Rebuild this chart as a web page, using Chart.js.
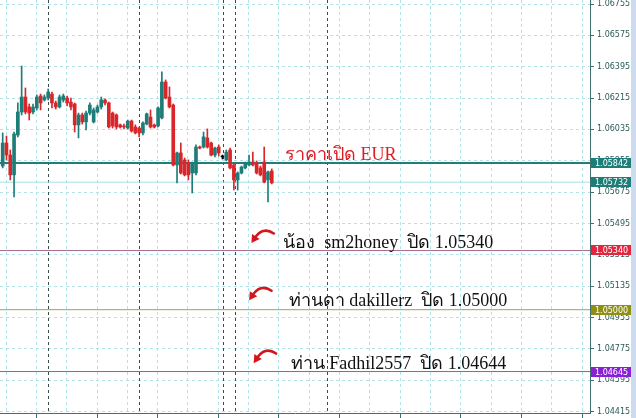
<!DOCTYPE html>
<html>
<head>
<meta charset="utf-8">
<script src="https://cdn.jsdelivr.net/npm/chart.js@4.4.0/dist/chart.umd.min.js"></script>
<style>
  html, body { margin: 0; padding: 0; background: #fff; overflow: hidden; }
  #wrap { width: 636px; height: 418px; position: relative; }
</style>
</head>
<body>
<div id="wrap"><canvas id="chart"></canvas></div>
<script>
// H1 candles
const openP = [1.05825, 1.05957, 1.05888, 1.05774, 1.06003, 1.06135, 1.06221, 1.06164, 1.06135, 1.06158,
  1.06227, 1.06204, 1.06215, 1.06238, 1.06187, 1.06164, 1.06204, 1.06215, 1.06192, 1.06181,
  1.06061, 1.06118, 1.06078, 1.06129, 1.06078, 1.06135, 1.06164, 1.06204, 1.06187, 1.06129,
  1.06118, 1.06061, 1.06055, 1.06043, 1.06083, 1.06049, 1.06043, 1.06015, 1.06066, 1.06106,
  1.06061, 1.06055, 1.06101, 1.06307, 1.06221, 1.06175, 1.05831, 1.05900, 1.05860, 1.05842,
  1.05785, 1.05785, 1.05934, 1.05934, 1.05986, 1.05957, 1.05888, 1.05934, 1.05877, 1.05860,
  1.05917, 1.05831, 1.05745, 1.05785, 1.05814, 1.05831, 1.05848, 1.05842, 1.05814, 1.05848,
  1.05745, 1.05796];
const highP = [1.06015, 1.05997, 1.05917, 1.06020, 1.06187, 1.06399, 1.06273, 1.06181, 1.06181, 1.06233,
  1.06238, 1.06233, 1.06267, 1.06250, 1.06198, 1.06233, 1.06238, 1.06227, 1.06215, 1.06187,
  1.06129, 1.06129, 1.06141, 1.06187, 1.06158, 1.06175, 1.06221, 1.06210, 1.06192, 1.06135,
  1.06124, 1.06066, 1.06066, 1.06089, 1.06089, 1.06061, 1.06049, 1.06078, 1.06129, 1.06147,
  1.06066, 1.06164, 1.06365, 1.06319, 1.06279, 1.06181, 1.05905, 1.05957, 1.05871, 1.05860,
  1.05848, 1.05946, 1.05940, 1.06020, 1.06038, 1.05963, 1.05934, 1.05946, 1.05888, 1.05917,
  1.05928, 1.05837, 1.05791, 1.05825, 1.05848, 1.05888, 1.05905, 1.05854, 1.05825, 1.05934,
  1.05796, 1.05808];
const lowP = [1.05814, 1.05860, 1.05745, 1.05647, 1.05992, 1.06118, 1.06124, 1.06089, 1.06124, 1.06147,
  1.06147, 1.06198, 1.06204, 1.06158, 1.06152, 1.06158, 1.06192, 1.06170, 1.06147, 1.06020,
  1.05986, 1.06066, 1.06032, 1.06118, 1.06072, 1.06129, 1.06152, 1.06175, 1.06043, 1.06043,
  1.06038, 1.06043, 1.06038, 1.06038, 1.06020, 1.06009, 1.05992, 1.06003, 1.06061, 1.06043,
  1.06043, 1.06049, 1.06095, 1.06210, 1.06158, 1.05825, 1.05728, 1.05779, 1.05768, 1.05745,
  1.05670, 1.05774, 1.05923, 1.05928, 1.05928, 1.05883, 1.05877, 1.05883, 1.05865, 1.05854,
  1.05808, 1.05687, 1.05687, 1.05779, 1.05808, 1.05825, 1.05825, 1.05779, 1.05768, 1.05728,
  1.05619, 1.05722];
const closeP = [1.05957, 1.05888, 1.05774, 1.06009, 1.06135, 1.06221, 1.06135, 1.06129, 1.06164, 1.06221,
  1.06187, 1.06221, 1.06250, 1.06187, 1.06164, 1.06221, 1.06227, 1.06187, 1.06164, 1.06061,
  1.06118, 1.06078, 1.06129, 1.06175, 1.06147, 1.06164, 1.06204, 1.06187, 1.06049, 1.06055,
  1.06049, 1.06049, 1.06049, 1.06083, 1.06026, 1.06015, 1.06015, 1.06072, 1.06124, 1.06049,
  1.06049, 1.06158, 1.06307, 1.06215, 1.06164, 1.05831, 1.05900, 1.05785, 1.05774, 1.05774,
  1.05842, 1.05934, 1.05928, 1.05992, 1.05934, 1.05888, 1.05928, 1.05900, 1.05877, 1.05905,
  1.05814, 1.05745, 1.05785, 1.05819, 1.05842, 1.05848, 1.05831, 1.05785, 1.05774, 1.05733,
  1.05791, 1.05728];

const yTicks = [1.06755, 1.06575, 1.06395, 1.06215, 1.06035, 1.05855, 1.05675,
  1.05495, 1.05315, 1.05135, 1.04955, 1.04775, 1.04595, 1.04415];

// drawn horizontal levels and their price tags
const levelPrices = [1.05842, 1.05732, 1.05340, 1.05000, 1.04645];
const levelLabels = ['1.05842', '1.05732', '1.05340', '1.05000', '1.04645'];

// period separators (bar index)
const separators = [12, 36, 58, 61.2, 85.5];

const noteTexts = ['ราคาเปิด EUR', 'น้อง  sm2honey  ปิด 1.05340', 'ท่านดา dakillerz  ปิด 1.05000', 'ท่าน Fadhil2557  ปิด 1.04644'];

// styles
const TEAL = '#1d7d78';
const RED = '#d9262b';
const AXIS = '#3f6f6f';
const GRID = '#b4e2e9';
const levelStyle = [
  { line: '#2a7a77', width: 2, box: '#1d7d78' },
  { line: '#a9dfe7', width: 1, box: '#1d7d78' },
  { line: '#a86c8c', width: 1, box: '#e3263f' },
  { line: '#a3a348', width: 1, box: '#8f8f16' },
  { line: '#9a56b4', width: 1, box: '#8a1fd8' }
];
// note placement: bar index, level index, pixel lift above the level, arrow?
const notePos = [
  { x: 74.5, lvl: 0, dy: -3, color: '#e01b22', arrow: null },
  { x: 74.0, lvl: 2, dy: -2, color: '#111', arrow: 65.2 },
  { x: 75.5, lvl: 3, dy: -4, color: '#111', arrow: 64.6 },
  { x: 76.0, lvl: 4, dy: -3, color: '#111', arrow: 65.8 }
];

const colors = openP.map((o, i) => closeP[i] > o ? TEAL : (closeP[i] < o ? RED : '#000'));
const wicks = openP.map((o, i) => ({ x: i, y: [lowP[i], highP[i]] }));
const bodies = openP.map((o, i) => ({ x: i, y: [o, closeP[i]] }));
const xGrid = [];
for (let v = 0.89; v < 156; v += 8) xGrid.push(v);

function drawArrow(ctx, x, y) {
  ctx.save();
  ctx.translate(x, y);
  ctx.strokeStyle = '#d4161c';
  ctx.fillStyle = '#d4161c';
  ctx.lineWidth = 2.6;
  ctx.lineCap = 'round';
  ctx.beginPath();
  ctx.moveTo(24, -11);
  ctx.quadraticCurveTo(14, -18, 6, -8);
  ctx.stroke();
  // head along the end direction
  const dx = -0.55, dy = 0.83, px = 0.83, py = 0.55;
  const ex = 6, ey = -8;
  ctx.beginPath();
  ctx.moveTo(ex + dx * 8, ey + dy * 8);
  ctx.lineTo(ex + px * 4.5, ey + py * 4.5);
  ctx.lineTo(ex - px * 4.5, ey - py * 4.5);
  ctx.closePath();
  ctx.fill();
  ctx.restore();
}

const overlay = {
  id: 'overlay',
  beforeDatasetsDraw(chart) {
    const { ctx, chartArea: a, scales: { x, y } } = chart;
    ctx.save();
    ctx.strokeStyle = '#3c4b4b';
    ctx.lineWidth = 1;
    ctx.setLineDash([3, 3]);
    separators.forEach(s => {
      const px = Math.round(x.getPixelForValue(s)) + 0.5;
      ctx.beginPath();
      ctx.moveTo(px, a.top);
      ctx.lineTo(px, a.bottom);
      ctx.stroke();
    });
    ctx.setLineDash([]);
    levelPrices.forEach((p, i) => {
      const st = levelStyle[i];
      const py = y.getPixelForValue(p);
      ctx.strokeStyle = st.line;
      ctx.lineWidth = st.width;
      ctx.beginPath();
      ctx.moveTo(a.left, py);
      ctx.lineTo(a.right, py);
      ctx.stroke();
    });
    ctx.restore();
  },
  afterDraw(chart) {
    const { ctx, chartArea: a, scales: { x, y } } = chart;
    ctx.save();
    // price tags on the axis
    ctx.font = '8px "DejaVu Sans"';
    ctx.textBaseline = 'middle';
    levelPrices.forEach((p, i) => {
      const py = Math.round(y.getPixelForValue(p));
      ctx.fillStyle = levelStyle[i].box;
      ctx.fillRect(a.right + 1, py - 5, 41, 10);
      ctx.fillStyle = '#fff';
      ctx.fillText(levelLabels[i], a.right + 5, py + 0.5);
    });
    // notes
    ctx.textBaseline = 'alphabetic';
    ctx.font = '18px "Liberation Serif", "DejaVu Serif", serif';
    noteTexts.forEach((t, i) => {
      const n = notePos[i];
      const ly = y.getPixelForValue(levelPrices[n.lvl]);
      ctx.fillStyle = n.color;
      ctx.fillText(t, x.getPixelForValue(n.x), ly + n.dy);
      if (n.arrow !== null) drawArrow(ctx, x.getPixelForValue(n.arrow), ly + n.dy - 4);
    });
    // window edge strip
    ctx.fillStyle = '#cddbee';
    ctx.fillRect(631, 0, 5, chart.height);
    ctx.restore();
  }
};

new Chart(document.getElementById('chart'), {
  type: 'bar',
  data: {
    datasets: [
      { data: wicks, backgroundColor: colors, barThickness: 1, grouped: false, borderWidth: 0, order: 2 },
      { data: bodies, backgroundColor: colors, barThickness: 3, grouped: false, borderWidth: 0, minBarLength: 1, order: 1 }
    ]
  },
  options: {
    responsive: true,
    maintainAspectRatio: false,
    animation: false,
    devicePixelRatio: 1,
    layout: { padding: 0 },
    plugins: { legend: { display: false }, tooltip: { enabled: false } },
    scales: {
      x: {
        type: 'linear',
        min: -0.71,
        max: 154.96,
        offset: false,
        afterBuildTicks: s => { s.ticks = xGrid.map(v => ({ value: v })); },
        afterFit: s => { s.height = 5; },
        ticks: { display: false },
        grid: {
          offset: false,
          color: GRID,
          tickLength: 5,
          tickColor: c => c.index % 2 ? AXIS : 'rgba(0,0,0,0)'
        },
        border: { color: AXIS, dash: [3, 3] }
      },
      y: {
        position: 'right',
        bounds: 'data',
        min: 1.04407,
        max: 1.06778,
        afterBuildTicks: s => { s.ticks = yTicks.map(v => ({ value: v })); },
        afterFit: s => { s.width = 46; s.paddingTop = 0; s.paddingBottom = 0; },
        ticks: {
          color: '#2d5a5a',
          font: { family: 'DejaVu Sans', size: 8 },
          padding: 3,
          autoSkip: false,
          callback: v => v.toFixed(5)
        },
        grid: { color: GRID, tickColor: AXIS, tickLength: 4 },
        border: { color: AXIS, dash: [3, 3] }
      }
    }
  },
  plugins: [overlay]
});
</script>
</body>
</html>
